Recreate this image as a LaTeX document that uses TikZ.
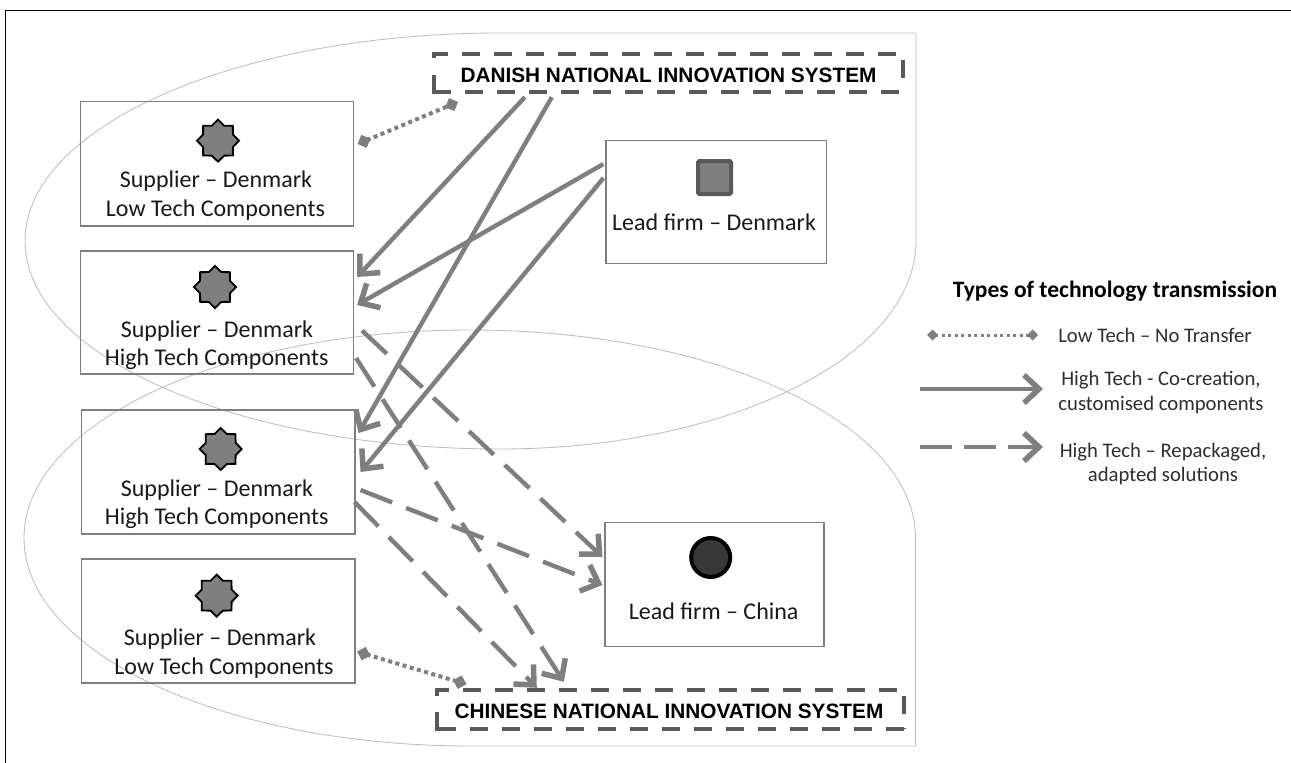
\documentclass[tikz,border=0pt]{standalone}
\usepackage{fontspec}
\setmainfont{Carlito}
\newfontfamily\arialfont{Liberation Sans}
\usetikzlibrary{arrows.meta,shapes.geometric,calc}
\definecolor{linegray}{HTML}{7F7F7F}
\definecolor{darkdash}{HTML}{595959}
\definecolor{blobgray}{HTML}{BEBEBE}
\tikzset{
  box/.style={draw=linegray,line width=1.1pt,fill=none,inner sep=0pt,minimum width=#1},
  box/.default=273pt,
  boxtxt/.style={font=\fontsize{24}{27}\selectfont,text=black!90,inner sep=0pt,anchor=center},
  legtxt/.style={font=\fontsize{20.7}{24}\selectfont,text=black!82,inner sep=0pt,anchor=center},
  nistxt/.style={font=\arialfont\bfseries\fontsize{20.8}{24}\selectfont,text=black,inner sep=0pt,anchor=center},
  badge/.style={star,star points=8,star point ratio=1.3,minimum size=42pt,inner sep=0pt,draw=black,fill=linegray,line width=1.8pt},
  blob/.style={draw=blobgray,line width=0.85pt},
  nis/.style={draw=darkdash,line width=4.5pt},
  nisdash/.style={nis,dash pattern=on 18pt off 14pt},
  solidarrow/.style={draw=linegray,line width=4.4pt,-{Straight Barb[length=15pt,width=28pt,line width=5.5pt]}},
  dasharrow/.style={solidarrow,dash pattern=on 34pt off 15pt},
  keydash/.style={solidarrow,dash pattern=on 32pt off 12pt},
  dotlink/.style={draw=linegray,line width=4pt,dash pattern=on 4pt off 3.5pt,{Diamond[length=14pt,width=14pt,line width=0pt]}-{Diamond[length=14pt,width=14pt,line width=0pt]}},
  dotkey/.style={draw=linegray,line width=3pt,dash pattern=on 3pt off 3.5pt,{Diamond[length=11pt,width=11pt,line width=0pt]}-{Diamond[length=11pt,width=11pt,line width=0pt]}},
}
\begin{document}
\begin{tikzpicture}[x=1pt,y=-1pt]
\useasboundingbox (0,0) rectangle (1291,763);
\fill[white] (0,0) rectangle (1291,763);
\draw[black,line width=1.3pt] (5.5,763) -- (5.5,10.5) -- (1291,10.5);
% regions
\draw[blob] (916,33) -- (916,241) .. controls (916,356) and (730,449) .. (500,449)
  .. controls (238,449) and (25,356) .. (25,241) .. controls (25,126) and (238,33) .. (500,33) -- cycle;
\draw[blob] (915.5,746) -- (915.5,538) .. controls (915.5,423) and (716,330) .. (470,330)
  .. controls (224,330) and (24,423) .. (24,538) .. controls (24,653) and (224,746) .. (470,746) -- cycle;
% boxes
\node[box,minimum height=124.5pt] (b1) at (217,163.75) {};
\node[box,minimum height=123pt] (b2) at (217,312.5) {};
\node[box=273.5pt,minimum height=124pt] (b3) at (218.25,472) {};
\node[box=273.5pt,minimum height=124pt] (b4) at (218.25,621) {};
\node[box=220.5pt,minimum height=123pt] (ldk) at (716.25,202) {};
\node[box=219pt,minimum height=124pt] (lcn) at (714.5,584.7) {};
% badges
\node[badge] (s1) at (218,140.7) {};
\node[badge] (s2) at (215,287) {};
\node[badge] (s3) at (220.7,449) {};
\node[badge] (s4) at (216.7,595.7) {};
\node[draw=darkdash,fill=linegray,line width=4pt,rounded corners=1.5pt,minimum size=33pt,inner sep=0pt] (sq) at (714.5,177.5) {};
\node[ellipse,draw=black,fill=black!78,line width=4pt,minimum width=39pt,minimum height=39pt,inner sep=0pt] (ci) at (710.7,557.5) {};
% labels
\node[boxtxt] (t1a) at (216,181) {Supplier – Denmark};
\node[boxtxt] (t1b) at (215.5,210) {Low Tech Components};
\node[boxtxt] (t2a) at (217,331) {Supplier – Denmark};
\node[boxtxt] (t2b) at (216.7,359) {High Tech Components};
\node[boxtxt] (t3a) at (217,490) {Supplier – Denmark};
\node[boxtxt] (t3b) at (216.7,518) {High Tech Components};
\node[boxtxt] (t4a) at (220,639) {Supplier – Denmark};
\node[boxtxt] (t4b) at (224,668) {Low Tech Components};
\node[boxtxt] (t5) at (714,222) {Lead firm – Denmark};
\node[boxtxt] (t6) at (713.7,611) {Lead firm – China};
% national systems
\node[nistxt,minimum width=469pt,minimum height=38pt] (dk) at (668.5,73) {};
\node[nistxt] (dkt) at (668.5,75) {DANISH NATIONAL INNOVATION SYSTEM};
\node[nistxt,minimum width=467pt,minimum height=39pt] (cn) at (670.5,709.5) {};
\node[nistxt] (cnt) at (669,711) {CHINESE NATIONAL INNOVATION SYSTEM};
\draw[nisdash] ($(dk.north west)+(0,4)$) -- (dk.north west) -- (dk.north east) -- (dk.south east);
\draw[nisdash] ($(dk.south east)+(-4,0)$) -- ($(dk.south west)+(21,0)$);
\draw[nis] ($(dk.south west)+(17,0)$) -- (dk.south west) -- ($(dk.south west)+(0,-17)$);
\draw[nisdash] ($(cn.north west)+(0,6)$) -- (cn.north west) -- (cn.north east) -- (cn.south east);
\draw[nisdash] (cn.south east) -- ($(cn.south west)+(21,0)$);
\draw[nis] ($(cn.south west)+(19,0)$) -- (cn.south west) -- ($(cn.south west)+(0,-17)$);
% connectors
\draw[solidarrow] ($(dk.south west)+(91,5)$) -- ($(b2.east)+(3,-35.5)$);
\draw[solidarrow] ($(dk.south west)+(118,5)$) -- ($(b3.east)+(3,-39)$);
\draw[solidarrow] ($(ldk.west)+(-2,-38)$) -- ($(b2.east)+(3,-7.5)$);
\draw[solidarrow] ($(ldk.west)+(-2,-24)$) -- ($(b3.east)+(5,0)$);
\draw[dasharrow] ($(b2.east)+(8,18)$) -- ($(lcn.west)+(-2,-27.7)$);
\draw[dasharrow] ($(b2.east)+(2,45.5)$) -- ($(cn.north west)+(127,-8)$);
\draw[dasharrow] ($(b3.east)+(5,18)$) -- ($(lcn.west)+(-2,0.3)$);
\draw[dasharrow] ($(b3.east)+(-1,30)$) -- ($(cn.north west)+(100,-2)$);
\draw[dotlink] ($(b1.east)+(3.5,-19.7)$) -- ($(dk.south west)+(24.3,9.7)$);
\draw[dotlink] ($(b4.east)+(1.5,30.6)$) -- ($(cn.north west)+(29.7,-5.6)$);
% legend
\node[font=\bfseries\fontsize{23.5}{27}\selectfont,text=black,inner sep=0pt] (lt) at (1115,291) {Types of technology transmission};
\node[legtxt] (l1) at (1155,335) {Low Tech – No Transfer};
\node[legtxt] (l2a) at (1161,380) {High Tech - Co-creation,};
\node[legtxt] (l2b) at (1161,405) {customised components};
\node[legtxt] (l3a) at (1163,452) {High Tech – Repackaged,};
\node[legtxt] (l3b) at (1163,476) {adapted solutions};
\coordinate (k1s) at (927,335); \coordinate (k1e) at (1038,335);
\coordinate (k2s) at (920,389); \coordinate (k2e) at (1043,389);
\coordinate (k3s) at (920,447); \coordinate (k3e) at (1043,447);
\draw[dotkey] (k1s) -- (k1e);
\draw[solidarrow] (k2s) -- (k2e);
\draw[keydash] (k3s) -- (k3e);
\end{tikzpicture}
\end{document}
